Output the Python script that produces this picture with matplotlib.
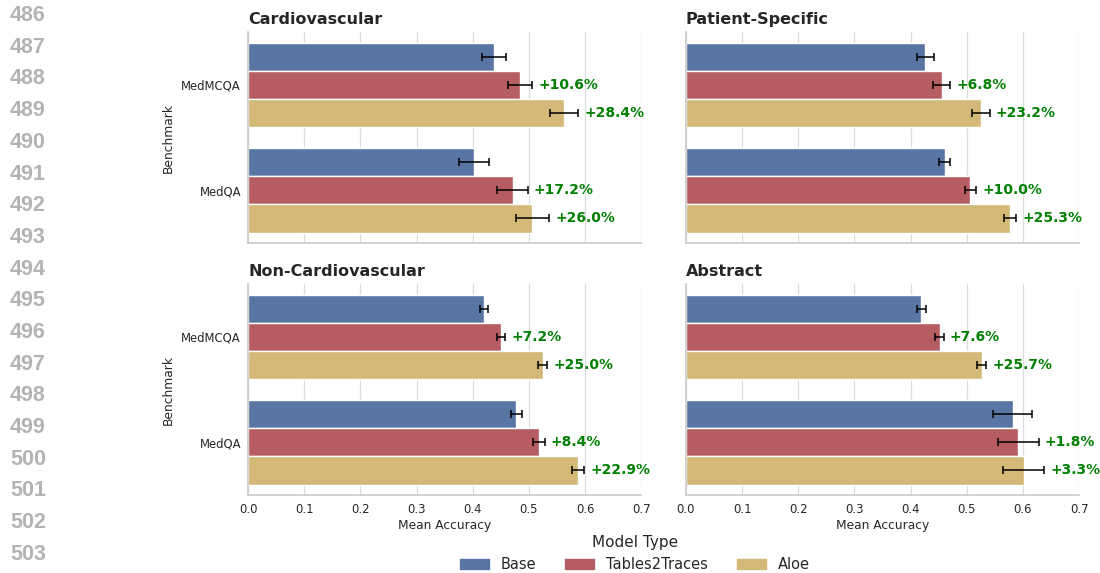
import matplotlib
matplotlib.use("Agg")
import matplotlib.pyplot as plt
import matplotlib.patches as mpatches
import seaborn as sns
import numpy as np

benchmarks = ["MedMCQA", "MedQA"]
models = ["Base", "Tables2Traces", "Aloe"]
panels = ["Cardiovascular", "Patient-Specific", "Non-Cardiovascular", "Abstract"]

# mean accuracy per panel: [Base, Tables2Traces, Aloe] x [MedMCQA, MedQA]
card_mean = [[0.438, 0.402], [0.4845, 0.471], [0.5625, 0.5065]]
card_err = [[0.022, 0.027], [0.022, 0.027], [0.025, 0.030]]
card_gain = [["+10.6%", "+17.2%"], ["+28.4%", "+26.0%"]]

pat_mean = [[0.426, 0.4605], [0.455, 0.5066], [0.525, 0.577]]
pat_err = [[0.015, 0.0095], [0.016, 0.0095], [0.016, 0.0105]]
pat_gain = [["+6.8%", "+10.0%"], ["+23.2%", "+25.3%"]]

noncard_mean = [[0.420, 0.478], [0.4505, 0.518], [0.525, 0.5875]]
noncard_err = [[0.007, 0.010], [0.007, 0.010], [0.008, 0.011]]
noncard_gain = [["+7.2%", "+8.4%"], ["+25.0%", "+22.9%"]]

abs_mean = [[0.419, 0.5817], [0.4515, 0.592], [0.527, 0.601]]
abs_err = [[0.0075, 0.035], [0.0075, 0.036], [0.008, 0.0365]]
abs_gain = [["+7.6%", "+1.8%"], ["+25.7%", "+3.3%"]]

xticks = [0.0, 0.1, 0.2, 0.3, 0.4, 0.5, 0.6, 0.7]

sns.set_theme(style="whitegrid")
plt.rcParams['font.family'] = ['DejaVu Sans']

colors = ["#5975a4", "#b55d60", "#d3b877"]

fig, axes = plt.subplots(2, 2, figsize=(11, 5.73), dpi=100, sharex=True, sharey=True)
fig.subplots_adjust(left=0.2255, right=0.981, top=0.944, bottom=0.136,
                    hspace=0.194, wspace=0.114)

data = [(card_mean, card_err, card_gain),
        (pat_mean, pat_err, pat_gain),
        (noncard_mean, noncard_err, noncard_gain),
        (abs_mean, abs_err, abs_gain)]

h = 0.8 / 3
ypos = np.arange(len(benchmarks))
for k, ax in enumerate(axes.flat):
    mean, err, gain = data[k]
    for m in range(3):
        y = ypos - 0.4 + h / 2 + m * h
        ax.barh(y, mean[m], height=h, color=colors[m], edgecolor="white",
                linewidth=1, label=models[m])
        ax.errorbar(mean[m], y, xerr=err[m], fmt="none", ecolor="black",
                    elinewidth=1.1, capsize=3, capthick=1.1)
        if m > 0:
            for j in range(len(benchmarks)):
                ax.text(mean[m][j] + err[m][j] + 0.011, y[j], gain[m - 1][j],
                        color="green", fontweight="bold", fontsize=10,
                        ha="left", va="center")
    ax.set_title(panels[k], loc="left", fontweight="bold", fontsize=11.5, pad=6)
    ax.set_xlim(0, 0.7)
    ax.set_ylim(1.5, -0.5)
    ax.set_xticks(xticks)
    ax.set_yticks(ypos)
    ax.set_yticklabels(benchmarks)
    ax.grid(axis="y", visible=False)
    ax.grid(axis="x", color="#dcdcdc", linewidth=0.9)
    ax.tick_params(axis="y", labelsize=8.4, length=0, pad=5)
    ax.tick_params(axis="x", labelsize=8.4, length=0, pad=6)
    for s in ["top", "right"]:
        ax.spines[s].set_visible(False)
    for s in ["left", "bottom"]:
        ax.spines[s].set_color("#cccccc")
    if k % 2 == 0:
        ax.set_ylabel("Benchmark", fontsize=8.8, labelpad=5)
    if k >= 2:
        ax.set_xlabel("Mean Accuracy", fontsize=8.8, labelpad=2)
        ax.xaxis.set_tick_params(labelbottom=True)

handles = [mpatches.Patch(color=colors[m], label=models[m]) for m in range(3)]
fig.legend(handles=handles, loc="lower center", bbox_to_anchor=(0.577, -0.022),
           ncol=3, frameon=False, title="Model Type", fontsize=10.5,
           title_fontsize=11, handlelength=2.0, columnspacing=2.0)

for i in range(18):
    fig.text(10 / 1100, 1 - (15.5 + 31.7 * i) / 573, str(486 + i),
             ha="left", va="center", color="#b3b3b3", fontsize=15.5,
             fontweight="bold", family=["Liberation Sans", "DejaVu Sans"])

fig.savefig("out.png", dpi=100)
